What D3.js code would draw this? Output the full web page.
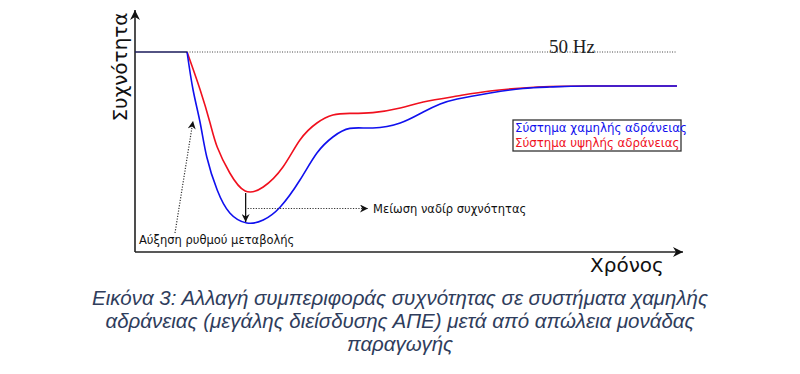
<!DOCTYPE html>
<html><head><meta charset="utf-8">
<script src="https://cdn.jsdelivr.net/npm/d3@7"></script>
<style>
html,body{margin:0;padding:0;background:#fff;}
svg{display:block;}
</style></head>
<body>
<svg id="chart" width="800" height="374"></svg>
<script>
// ---- data ----
const seriesNames = ["Σύστημα χαμηλής αδράνειας", "Σύστημα υψηλής αδράνειας"];
const seriesColors = ["#1010ee", "#f0101e"];
const preTime = [0, 9.5];
const preFreq = [50.0, 50.0];
const lowTime  = [9.5, 10.6, 11.9, 13.1, 15.0, 17.3, 20.4, 23.4, 26.5, 30.1, 33.2, 36.1, 39.2, 43.4, 48.4, 52.6, 55.7, 58.8, 64.8, 70.8, 75.7, 83.0, 98.9];
const lowFreq  = [50.0, 49.81, 49.645, 49.475, 49.31, 49.195, 49.145, 49.16, 49.225, 49.36, 49.495, 49.575, 49.618, 49.62, 49.645, 49.70, 49.74, 49.765, 49.795, 49.8175, 49.825, 49.83, 49.83];
const highTime = [9.5, 11.9, 13.7, 15.0, 17.3, 20.1, 23.4, 27.0, 30.1, 33.2, 36.1, 39.2, 43.4, 48.4, 52.6, 58.8, 64.8, 70.8, 75.7, 83.0, 98.9];
const highFreq = [50.0, 49.81, 49.645, 49.525, 49.395, 49.305, 49.325, 49.425, 49.56, 49.645, 49.685, 49.693, 49.697, 49.72, 49.75, 49.78, 49.805, 49.82, 49.8275, 49.83, 49.83];
const nominalFreq = 50;
const refLineEnd = 98.9;
const nominalLabel = "50 Hz";
const xLabel = "Χρόνος";
const yLabel = "Συχνότητα";
const nadirLabel = "Μείωση ναδίρ συχνότητας";
const rocofLabel = "Αύξηση ρυθμού μεταβολής";
const captionLines = [
  "Εικόνα 3: Αλλαγή συμπεριφοράς συχνότητας σε συστήματα χαμηλής",
  "αδράνειας (μεγάλης διείσδυσης ΑΠΕ) μετά από απώλεια μονάδας",
  "παραγωγής"
];

// ---- layout ----
const svg = d3.select("#chart");
const x = d3.scaleLinear().domain([0, 100]).range([135, 683]);
const y = d3.scaleLinear().domain([49.0, 50.21]).range([252, 10]);
const sans = "'DejaVu Sans', Verdana, sans-serif";

const defs = svg.append("defs");
function marker(id, w, h) {
  defs.append("marker").attr("id", id).attr("viewBox", "0 0 10 10")
    .attr("refX", 10).attr("refY", 5).attr("markerWidth", w).attr("markerHeight", h)
    .attr("markerUnits", "userSpaceOnUse").attr("orient", "auto")
    .append("path").attr("d", "M0,0 L10,5 L0,10 L3,5 Z").attr("fill", "#111");
}
marker("axisArrow", 14, 10);
marker("smallArrow", 10, 8);

// axes
svg.append("line").attr("x1", x(0)).attr("y1", y(49.0)).attr("x2", x(0)).attr("y2", y(50.21))
  .attr("stroke", "#222").attr("stroke-width", 1.6).attr("marker-end", "url(#axisArrow)");
svg.append("line").attr("x1", x(0)).attr("y1", y(49.0)).attr("x2", x(100)).attr("y2", y(49.0))
  .attr("stroke", "#222").attr("stroke-width", 1.6).attr("marker-end", "url(#axisArrow)");

// reference 50 Hz dotted line
svg.append("line").attr("x1", x(preTime[1])).attr("x2", x(refLineEnd))
  .attr("y1", y(nominalFreq)).attr("y2", y(nominalFreq))
  .attr("stroke", "#444").attr("stroke-width", 1).attr("stroke-dasharray", "1,1.5");
svg.append("text").attr("x", 549).attr("y", y(nominalFreq) + 0.5)
  .attr("font-family", "'Liberation Serif','Times New Roman',serif").attr("font-size", 19)
  .attr("fill", "#222").text(nominalLabel);

// curves
const line = d3.line().x(d => x(d[0])).y(d => y(d[1])).curve(d3.curveNatural);
const zip = (a, b) => a.map((v, i) => [v, b[i]]);
svg.append("path").attr("d", line(zip(highTime, highFreq))).attr("fill", "none")
  .attr("stroke", seriesColors[1]).attr("stroke-width", 1.6);
svg.append("path").attr("d", line(zip(lowTime, lowFreq))).attr("fill", "none")
  .attr("stroke", seriesColors[0]).attr("stroke-width", 1.6);
svg.append("path").attr("d", d3.line().x(d => x(d[0])).y(d => y(d[1]))(zip(preTime, preFreq)))
  .attr("fill", "none").attr("stroke", "#1a1a5a").attr("stroke-width", 1.6);

// nadir annotation
const redMinI = highFreq.indexOf(d3.min(highFreq));
const blueMinI = lowFreq.indexOf(d3.min(lowFreq));
const nx = x(highTime[redMinI]) + 0.5;
svg.append("line").attr("x1", nx).attr("x2", nx)
  .attr("y1", y(highFreq[redMinI]) + 2).attr("y2", y(lowFreq[blueMinI]) - 1)
  .attr("stroke", "#111").attr("stroke-width", 1.3).attr("marker-end", "url(#smallArrow)");
const midY = (y(highFreq[redMinI]) + y(lowFreq[blueMinI])) / 2 + 1.5;
svg.append("line").attr("x1", nx + 2).attr("x2", 368).attr("y1", midY).attr("y2", midY)
  .attr("stroke", "#333").attr("stroke-width", 1.2).attr("stroke-dasharray", "1.2,1.5")
  .attr("marker-end", "url(#smallArrow)");
svg.append("text").attr("x", 373).attr("y", midY + 4.5).attr("font-family", sans)
  .attr("font-size", 11.5).attr("fill", "#111").text(nadirLabel);

// rocof annotation
svg.append("line").attr("x1", 175).attr("y1", 233).attr("x2", 193).attr("y2", 121)
  .attr("stroke", "#333").attr("stroke-width", 1.2).attr("stroke-dasharray", "1.2,1.5")
  .attr("marker-end", "url(#smallArrow)");
svg.append("text").attr("x", 139).attr("y", 244).attr("font-family", sans)
  .attr("font-size", 11.5).attr("fill", "#111").text(rocofLabel);

// axis labels
svg.append("text").attr("x", 590).attr("y", 272).attr("font-family", sans)
  .attr("font-size", 20).attr("fill", "#111").text(xLabel);
svg.append("text").attr("transform", "translate(127,67) rotate(-90)").attr("text-anchor", "middle")
  .attr("font-family", sans).attr("font-size", 20).attr("fill", "#111").text(yLabel);

// legend
const lg = svg.append("g");
lg.append("rect").attr("x", 513).attr("y", 120).attr("width", 168).attr("height", 31)
  .attr("fill", "#fff").attr("stroke", "#333").attr("stroke-width", 1.3);
seriesNames.forEach((n, i) => {
  lg.append("text").attr("x", 515).attr("y", 132 + i * 15).attr("font-family", sans)
    .attr("font-size", 11.8).attr("fill", seriesColors[i]).text(n);
});

// caption
captionLines.forEach((t, i) => {
  svg.append("text").attr("x", 400).attr("y", 305 + i * 23).attr("text-anchor", "middle")
    .attr("font-family", "'Liberation Sans', Arial, sans-serif").attr("font-style", "italic")
    .attr("font-size", 20.5).attr("fill", "#2f3d5c").text(t);
});
</script>
</body></html>
